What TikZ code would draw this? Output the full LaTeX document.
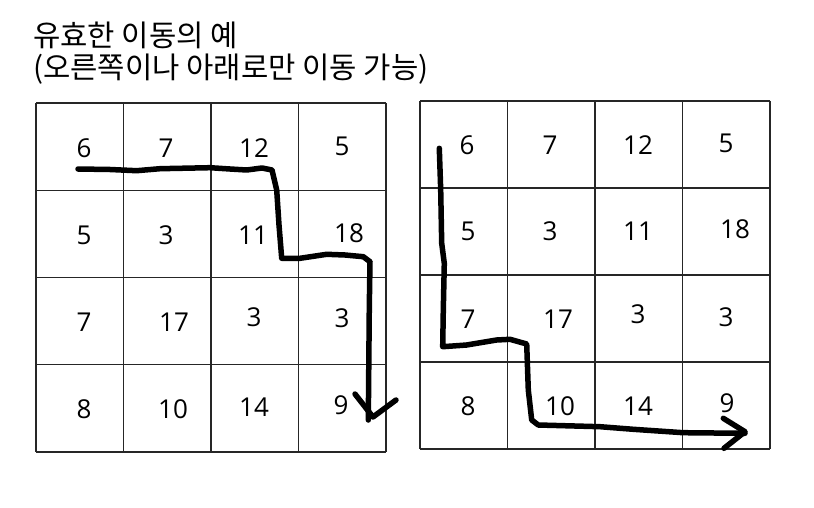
\documentclass[tikz,border=0pt]{standalone}
\usepackage{fontspec}
\setmainfont{Open Sans}
\newfontfamily\krfont{Noto Sans CJK KR}
\begin{document}
\begin{tikzpicture}[x=1pt,y=-1pt,
  num/.style={font=\fontsize{26}{30}\selectfont, inner sep=0pt, anchor=center},
  title/.style={anchor=base west, inner sep=0pt, font=\krfont\fontsize{29.7}{35}\selectfont},
  gridline/.style={draw=black!85, line width=1.1pt},
  stroke/.style={line width=5.5pt, line cap=round, line join=round, black}]
\useasboundingbox[fill=white] (0,0) rectangle (814,508);
% title
\node[title] (t1) at (33,47) {유효한 이동의 예};
\node[title] (t2) at (33,79) {(오른쪽이나 아래로만 이동 가능)};
% left grid
\foreach \i in {0,...,4} {
  \draw[gridline] ({36+87.5*\i},103) -- ({36+87.5*\i},452);
  \draw[gridline] (36,{103+87.25*\i}) -- (386,{103+87.25*\i});
}
% right grid
\foreach \i in {0,...,4} {
  \draw[gridline] ({420+87.5*\i},101) -- ({420+87.5*\i},449);
  \draw[gridline] (420,{101+87*\i}) -- (770,{101+87*\i});
}
% left numbers
\node[num] (La1) at (84,148) {6};
\node[num] (La2) at (166,148) {7};
\node[num] (La3) at (254,148) {12};
\node[num] (La4) at (342,146) {5};
\node[num] (Lb1) at (84,235) {5};
\node[num] (Lb2) at (166,235) {3};
\node[num] (Lb3) at (253,235) {11};
\node[num] (Lb4) at (349,233) {18};
\node[num] (Lc1) at (84,322) {7};
\node[num] (Lc2) at (174,322) {17};
\node[num] (Lc3) at (254,317) {3};
\node[num] (Lc4) at (342,318) {3};
\node[num] (Ld1) at (84,409) {8};
\node[num] (Ld2) at (173,409) {10};
\node[num] (Ld3) at (254,407) {14};
\node[num] (Ld4) at (341,405) {9};
% right numbers
\node[num] (Ra1) at (467,145) {6};
\node[num] (Ra2) at (550,145) {7};
\node[num] (Ra3) at (638,145) {12};
\node[num] (Ra4) at (726,143) {5};
\node[num] (Rb1) at (468,231) {5};
\node[num] (Rb2) at (550,231) {3};
\node[num] (Rb3) at (638,231) {11};
\node[num] (Rb4) at (735,229) {18};
\node[num] (Rc1) at (468,319) {7};
\node[num] (Rc2) at (558,319) {17};
\node[num] (Rc3) at (638,314) {3};
\node[num] (Rc4) at (726,317) {3};
\node[num] (Rd1) at (468,406) {8};
\node[num] (Rd2) at (560,406) {10};
\node[num] (Rd3) at (638,406) {14};
\node[num] (Rd4) at (727,403) {9};
% left path
\draw[stroke] (78,169) -- (110,169.5) -- (136.7,170.7) -- (160,168.7) -- (210,167.7) -- (230,169) -- (246.7,170) -- (262,168) -- (272,170)
  -- (276.7,190) -- (279,225) -- (281.7,258.3) -- (300,258.3) -- (326.7,254.3) -- (345,255) -- (363.3,256.7) -- (370,261.7)
  -- (369.3,306.7) -- (368.3,420);
\draw[stroke] (355,394) -- (373,417) -- (396,400);
% right path
\draw[stroke] (439.3,148.3) -- (440.7,190) -- (441.7,243.3) -- (444.3,263.3) -- (443.3,310) -- (442.7,346.7)
  -- (466.7,345) -- (496.7,340) -- (510,339.3) -- (526.7,344)
  -- (528.3,390) -- (531.7,420) -- (538.3,425) -- (600,426.7) -- (633.3,429.3) -- (683.3,432.7) -- (745,433.3);
\draw[stroke] (723.3,418.3) -- (745,431.7) -- (724,448.3);
\end{tikzpicture}
\end{document}
